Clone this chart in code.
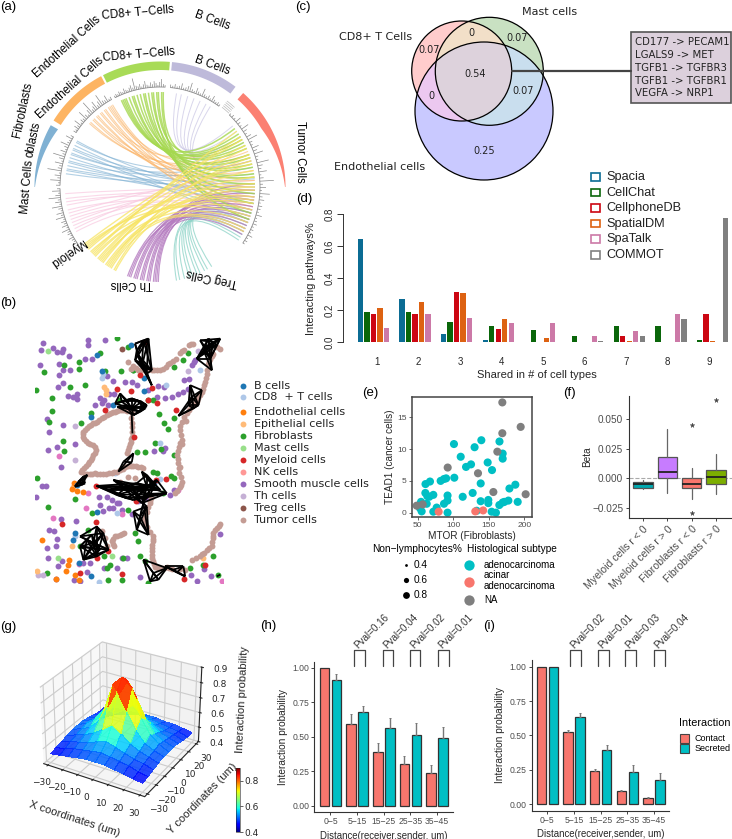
import numpy as np, pandas as pd, seaborn as sns
import matplotlib
matplotlib.use('Agg')
import matplotlib.pyplot as plt
from matplotlib.patches import Circle, Rectangle, PathPatch, Polygon
from matplotlib.path import Path
from matplotlib.collections import LineCollection
from matplotlib.cm import ScalarMappable
from matplotlib.colors import Normalize, ListedColormap

W, H = 732, 839
sns.set_style('white')
plt.rcParams['font.family'] = ['Liberation Sans', 'DejaVu Sans']
plt.rcParams['axes.unicode_minus'] = True
GREY = '#4d4d4d'

# ---------- (a) chord data (bearings in degrees, clockwise from north) ----------
ring_sectors = [('Tumor', 41.5, 90, '#fb8072'), ('B', 5.5, 37, '#bebada'), ('CD8', -27, 4.5, '#a8db57'),
                ('Endo', -58, -28, '#fdb462'), ('Fibro', -90, -60.5, '#80b1d3')]
b_starts = [10, 13, 17, 21, 25, 29, 32]
b_ends = [50, 54, 58, 62, 66, 70, 74]
cd8_starts = [-24, -23, -22, -21, -19, -17, -16, -14, -12, -10, -9, -7, -5, -4, -2, -1, 1, 2]
cd8_ends = [52, 58, 64, 60, 70, 76, 82, 66, 88, 94, 72, 100, 78, 106, 56, 84, 110, 62]
endo_starts = [-48, -47, -45, -44, -42, -41, -39, -38, -36, -35, -33, -32, -31, -30]
endo_ends = [68, 80, 92, 74, 98, 104, 86, 60, 110, 96, 84, 70, 102, 90]
fibro_starts = [-82, -80, -79, -77, -75, -74, -72, -70, -69, -67, -66, -64, -62, -61]
fibro_ends = [90, 100, 85, 94, 106, 78, 98, 74, 88, 112, 82, 104, 72, 92]
mast_starts = [-94, -97, -99, -101, -104, -106, -108, -110, -112, -114, -116, -118]
mast_ends = [92, 98, 104, 86, 110, 80, 96, 114, 88, 102, 76, 108]
mye_starts = [-127, -129, -131, -133, -135, -137, -139, -141, -143, -145, -147, -149, -151, -152, -128, -134, -140, -146, -130, -136, -142, -148]
mye_ends = [60, 88, 70, 104, 54, 96, 76, 112, 66, 100, 84, 118, 72, 92, 108, 58, 80, 116, 64, 98, 74, 90]
th_starts = [-160, -162, -164, -166, -168, -170, -172, -174, -176, -178, -179, -161, -165, -169, -173, -177]
th_ends = [100, 108, 96, 112, 104, 116, 92, 120, 88, 110, 106, 118, 98, 114, 102, 94]
treg_starts = [147, 150, 152, 155, 157, 160, 162, 165, 168, 170]
treg_ends = [112, 116, 120, 108, 122, 114, 118, 110, 124, 106]
link_sets = [(mast_starts, mast_ends, '#f9c9e0', .7, .8), (b_starts, b_ends, '#c9c5e4', .7, .7),
             (fibro_starts, fibro_ends, '#80b1d3', .6, .8), (endo_starts, endo_ends, '#fbb468', .6, .8),
             (treg_starts, treg_ends, '#8dd3c7', .75, .8), (th_starts, th_ends, '#b57cc0', .8, .9),
             (cd8_starts, cd8_ends, '#a5d84f', .8, 1.1), (mye_starts, mye_ends, '#f7e463', .75, 1.0)]
track_cd8 = [2, 3, 2, 4, 3, 2, 5, 3, 2, 4, 6, 3, 12, 4, 3, 5, 2, 4, 7, 3, 2, 5, 3, 6, 4, 2, 5, 8, 3, 2]
track_b = [3, 2, 4, 2, 3, 6, 2, 3, 5, 9, 3, 2, 6, 3, 2, 8, 3, 2, 4, 2, 6, 3, 2, 3, 2]
track_endo = [3, 2, 5, 3, 8, 2, 4, 3, 10, 4, 2, 6, 14, 3, 5, 9, 3, 6, 12, 4, 3, 7, 2, 3]
track_fibro = [4, 2, 10, 3, 6, 2, 14, 4, 3, 8, 2, 5, 12, 3, 6, 2, 4, 9, 3, 2, 7, 3]
track_mye = [3, 8, 2, 5, 12, 3, 6, 2, 10, 4, 2, 7, 3, 9, 2, 5, 3, 6, 2, 8, 3, 4, 2, 5, 3, 2, 4, 2]
track_tumor = [2, 3, 2, 6, 3, 2, 8, 4, 2, 5, 10, 3, 2, 7, 4, 9, 3, 2, 12, 5, 3, 8, 2, 4, 14, 3, 6, 2, 10, 3, 5, 2, 4, 3, 2, 6, 2, 3, 4, 2, 3, 2, 5, 2, 3, 2]
track_sets = [(-26.6, 2.9, track_cd8), (6, 36, track_b), (-57, -29, track_endo), (-89, -60, track_fibro),
              (-91, -125, track_mye), (44, 124, track_tumor)]

# ---------- (b) spatial positions ----------
smooth = [(128,157),(124,178),(160,172),(170,185),(185,185),(188,175),(207,197),(265,150),(265,165),(316,148),(255,205),(275,205),(121,223),(178,222),(190,240),(210,240),(178,255),(190,277),(175,290),(205,317),(218,320),(232,310),(230,326),(340,272),(320,258),(328,310),(300,325),(305,340),(285,345),(325,345),(312,330),(342,310),(375,275),(395,275),(410,283),(445,300),(475,287),(492,290),(515,320),(495,322),(470,320),(535,310),(548,305),(565,295),(552,268),(568,265),(585,210),(575,225),(582,215),(140,387),(148,425),(188,405),(143,480),(172,470),(225,462),(182,530),(463,483),(490,483),(495,475),(125,588),(138,588),(108,620),(298,620),(322,620),(300,645),(335,630),(350,640),(358,640),(310,662),(328,655),(340,655),(365,660),(183,687),(228,693),(148,720),(162,725),(170,747),(140,775),(168,770),(145,805),(175,830),(185,815),(168,868),(248,820),(270,820),(262,848),(222,870),(240,875),(312,835),(350,835),(365,805),(380,805),(420,862),(573,855),(590,875),(632,858),(612,838),(660,733),(395,672),(415,632),(440,625),(510,615),(522,600)]
fibro = [(352,143),(385,170),(237,215),(237,235),(193,223),(133,246),(300,187),(548,210),(565,187),(523,230),(362,243),(398,240),(315,242),(255,285),(210,290),(157,322),(108,300),(157,362),(272,370),(242,398),(148,395),(190,452),(193,482),(410,485),(434,487),(466,460),(483,478),(491,398),(505,417),(478,372),(521,383),(523,495),(460,545),(470,550),(512,557),(523,565),(110,563),(226,627),(143,650),(275,670),(383,660),(405,730),(415,755),(265,720),(240,770),(312,800),(368,805),(330,825),(320,835),(140,850),(420,800),(435,815),(570,835),(608,825),(640,800),(655,855),(445,880),(365,870),(325,872),(357,330),(445,330),(460,330),(400,240),(490,610)]
bcell = [(392,163),(290,195),(305,243),(433,263),(432,303),(338,345),(272,380),(290,667),(225,730),(218,752),(237,820),(272,860),(455,580),(462,578),(232,585)]
cd8t = [(305,263),(308,250),(498,284),(480,458),(600,238),(297,876),(352,670),(345,550),(480,568),(225,740)]
endoc = [(125,752),(207,812),(203,826),(198,843),(167,868),(225,855),(238,870),(250,606),(230,603),(222,580),(215,597)]
epi = [(311,290),(319,310),(318,298),(216,768),(218,590),(610,805),(112,845)]
mastc = [(143,183),(175,806),(335,800)]
mye = [(352,295),(392,303),(455,293),(420,255),(316,360),(528,361),(443,330),(470,340),(402,440),(287,587),(407,632),(497,568),(468,570),(185,703),(287,695),(325,785),(240,850),(290,805),(367,853),(615,825),(552,868),(435,155)]
th = [(595,182),(563,243),(226,407),(225,511),(130,855),(115,855)]
treg = [(365,175)]
pinkc = [(178,497),(258,655),(158,685),(365,672),(535,600),(265,610),(665,875),(238,822)]
tumor = [(660,175),(650,170),(640,190),(630,205),(625,220),(622,240),(618,262),(612,285),(605,305),(595,325),(585,338),(572,352),(560,368),(545,395),(558,392),(540,420),(545,450),(538,470),(545,462),(532,495),(535,520),(540,530),(538,548),(546,575),(540,592),(525,608),(580,160),(566,163),(553,178),(540,187),(518,212),(505,222),(490,235),(472,240),(455,240),(435,240),(415,240),(400,228),(385,215),(392,235),(395,370),(382,362),(370,360),(357,360),(345,365),(332,368),(320,375),(305,385),(292,395),(280,400),(268,408),(255,420),(248,432),(252,447),(265,458),(278,465),(288,480),(280,495),(272,510),(263,522),(252,535),(243,547),(255,553),(270,552),(285,550),(300,552),(318,552),(335,548),(350,545),(368,537),(385,528),(400,528),(415,530),(430,535),(395,425),(395,440),(392,455),(388,470),(380,490),(405,565),(385,560),(360,575),(452,625),(450,640),(440,665),(432,690),(440,712),(458,738),(460,755),(455,775),(455,795),(460,815),(465,832),(482,835),(500,832),(515,838),(660,702),(652,715),(640,730),(640,745),(635,770),(628,775),(612,790),(600,798),(575,810),(345,740),(335,755),(360,735),(373,730),(342,770),(305,725),(315,745),(320,770),(540,838),(555,840),
         (635,197),(628,212),(620,250),(615,274),(608,295),(600,315),(590,332),(578,345),(566,360),(552,380),(540,408),(542,435),(541,460),(535,482),(533,508),(537,535),(542,560),(544,585),(532,602),(573,162),(547,182),(529,205),(511,218),(497,229),(481,238),(463,240),(445,240),(425,240),(407,234),(376,361),(363,360),(351,362),(338,366),(326,371),(312,380),(298,390),(286,398),(274,404),(261,414),(250,426),(250,440),(258,453),(271,461),(284,472),(284,488),(276,503),(267,516),(257,529),(247,541),(262,553),(277,551),(292,551),(309,552),(326,550),(342,546),(359,541),(376,532),(392,528),(407,529),(422,532),(395,400),(393,385),(395,412),(394,448),(390,462),(384,480),(451,632),(445,652),(436,678),(436,702),(449,726),(459,747),(457,765),(455,785),(457,805),(462,824),(473,834),(491,834),(508,835),(656,708),(646,722),(640,738),(637,758),(620,782),(606,794),(588,804),(352,738),(340,748),(367,732),(338,763)]
edge_hubs = [(395,355),(395,375),(425,230),(630,205),(575,320),(370,515),(245,585),(440,590),(420,680),(280,760),(460,850),(520,840),(660,855)]
edge_leaves = [[(360,310),(345,340),(365,335),(380,330),(395,325),(410,330),(425,335),(440,345),(435,355),(420,365),(400,375),(375,345),(352,350)],
               [(397,430)],
               [(405,160),(410,180),(430,150),(445,145),(405,210),(455,240),(440,250),(430,220),(415,195),(455,285)],
               [(600,150),(615,170),(660,145),(640,155),(650,165),(590,205),(610,180),(625,145),(635,240)],
               [(605,300),(570,285),(595,345),(565,345),(580,355),(535,377)],
               [(400,490),(395,517),(355,545)],
               [(262,555),(225,590),(250,560),(235,575),(255,580)],
               [(425,545),(440,555),(460,590),(480,600),(410,580),(370,600),(290,588),(330,600),(350,615),(380,625),(400,630),(500,610),(470,570),(450,615),(425,640),(430,630),(340,570),(390,590)],
               [(400,665),(440,650),(410,720),(445,735),(430,640)],
               [(240,740),(290,710),(310,730),(325,780),(290,800),(250,810),(240,770),(260,750),(300,780),(275,735)],
               [(430,810),(500,835),(450,875),(475,870)],
               [(550,830),(555,860),(530,848),(495,830)],
               [(650,860)]]
cell_sets = [('Smooth muscle cells', smooth, '#9467bd'), ('Fibroblasts', fibro, '#2ca02c'), ('Pink', pinkc, '#e377c2'),
             ('Th cells', th, '#c5b0d5'), ('Mast cells', mastc, '#98df8a'), ('Epithelial cells', epi, '#ffbb78'),
             ('Endothelial cells', endoc, '#ff7f0e'), ('CD8 + T cells', cd8t, '#aec7e8'), ('B cells', bcell, '#1f77b4'),
             ('Treg cells', treg, '#8c564b'), ('Tumor cells', tumor, '#c49c94'), ('Myeloid cells', mye, '#d62728')]
cell_legend = [('B cells', '#1f77b4'), ('CD8  + T cells', '#aec7e8'), ('Endothelial cells', '#ff7f0e'), ('Epithelial cells', '#ffbb78'),
               ('Fibroblasts', '#2ca02c'), ('Mast cells', '#98df8a'), ('Myeloid cells', '#d62728'), ('NK cells', '#ff9896'),
               ('Smooth muscle cells', '#9467bd'), ('Th cells', '#c5b0d5'), ('Treg cells', '#8c564b'), ('Tumor cells', '#c49c94')]

# ---------- (c) venn ----------
venn_values = ['0.07', '0', '0.07', '0.54', '0.07', '0', '0.25']
venn_pairs = ['CD177 -> PECAM1', 'LGALS9 -> MET', 'TGFB1 -> TGFBR3', 'TGFB1 -> TGFBR1', 'VEGFA -> NRP1']

# ---------- (d) bars ----------
methods = ['Spacia', 'CellChat', 'CellphoneDB', 'SpatialDM', 'SpaTalk', 'COMMOT']
method_colors = ['#0b6c94', '#0a660a', '#cc0612', '#dd6212', '#cc79a7', '#808080']
shared = ['1', '2', '3', '4', '5', '6', '7', '8', '9']
spacia = [.646, .27, .05, .0125, 0, 0, 0, 0, 0]
cellchat = [.1875, .1875, .125, .1, .08, .0375, .1, .1, .015]
cellphonedb = [.175, .175, .3125, .085, 0, 0, .04, 0, .175]
spatialdm = [.2125, .255, .31, .145, .027, 0, .006, 0, .006]
spatalk = [.0875, .18, .15, .12, .12, .04, .07, .18, 0]
commot = [0, 0, 0, 0, 0, .008, .04, .145, .775]

# ---------- (e) scatter ----------
adeno_x = [101,110.5,118,125,130,139.5,165,169.5,169.5,148.4,154.5,101.5,90,87,82.3,67.3,61,138.6,179,187.3,127.3,113.3,60.8,63.6,66.4,72,92,92,87,138.6,149.3,149.3,164.8,169.5,172,177.5,190.6,54.7,62.7,53.3,55.6,72,76.7,92,133,154,160]
adeno_y = [10.8,8.8,7.2,7.6,10.3,11.4,11.2,9.3,8.5,7.9,6.7,5.5,5.4,5.3,5,4.9,4.5,4.6,3.8,4.4,3.1,2.5,3.1,2.6,2.5,2.8,2.7,1.9,1.4,1.8,2,1.5,1.2,1.6,1.7,1.9,1.7,1.7,1.4,.7,.2,.15,.8,0,.3,.15,0]
na_x = [169,194.8,169,162,92.2,134.8,156.4,201.8,48.6,57]
na_y = [17.35,13.5,12.5,9.6,7.1,6.2,3.25,2.9,1.1,1.3]
acinar_x = [79.5,131,142]
acinar_y = [.15,.2,.35]

# ---------- (f) boxes ----------
box_names = ['Myeloid cells r < 0', 'Myeloid cells r > 0', 'Fibroblasts r < 0', 'Fibroblasts r > 0']
box_colors = ['#00a9b0', '#c77cff', '#f8766d', '#7cae00']
whislo = [-.0093, -.0122, -.0176, -.0133]
q1 = [-.0079, .0006, -.0085, -.0051]
med = [-.0051, .0054, -.0051, .0008]
q3 = [-.0034, .018, 0, .0068]
whishi = [-.0017, .0422, .0085, .0207]
fliers = [[], [], [.0456, -.0297], [.0663]]

# ---------- (g) surface ----------
grid_um = [-30, -24, -18, -12, -6, 0, 6, 12, 18, 24, 30]
surface = [[.46,.47,.48,.49,.50,.50,.50,.49,.48,.47,.46],
           [.47,.48,.50,.51,.52,.53,.52,.51,.50,.48,.47],
           [.48,.50,.51,.53,.55,.57,.55,.53,.51,.50,.48],
           [.49,.51,.53,.56,.60,.65,.61,.56,.53,.51,.49],
           [.50,.52,.55,.61,.72,.84,.73,.62,.55,.52,.50],
           [.50,.53,.58,.66,.84,.90,.85,.67,.58,.53,.50],
           [.50,.52,.55,.62,.74,.85,.75,.63,.55,.52,.50],
           [.49,.51,.53,.57,.61,.66,.61,.57,.53,.51,.49],
           [.48,.50,.51,.53,.55,.57,.55,.53,.51,.50,.48],
           [.47,.49,.50,.51,.52,.53,.52,.51,.50,.49,.47],
           [.47,.48,.49,.49,.50,.50,.50,.49,.49,.48,.47]]

# ---------- (h), (i) ----------
dist = ['0\u22125', '5\u221215', '15\u221225', '25\u221235', '35\u221245']
h_contact = [1.0, .59, .39, .30, .24]
h_secreted = [.91, .675, .565, .515, .487]
h_contact_top = [1.0, .662, .457, .36, .292]
h_secreted_top = [.955, .722, .633, .597, .572]
h_pvals = ['Pval=0.16', 'Pval=0.04', 'Pval=0.02', 'Pval=0.01']
i_contact = [1.0, .524, .243, .095, .046]
i_secreted = [1.0, .631, .39, .235, .172]
i_contact_top = [1.0, .541, .257, .105, .052]
i_secreted_top = [1.0, .66, .432, .284, .223]
i_pvals = ['Pval=0.02', 'Pval=0.01', 'Pval=0.03', 'Pval=0.04']

fig = plt.figure(figsize=(W/100, H/100), dpi=100, facecolor='white')
def axpx(l, t, r, b, **kw):
    return fig.add_axes([l/W, 1-b/H, (r-l)/W, (b-t)/H], **kw)

ov = axpx(0, 0, W, H, zorder=5)
ov.set_xlim(0, W); ov.set_ylim(H, 0); ov.axis('off'); ov.patch.set_alpha(0)
def T(x, y, s, size=8, color='black', ha='left', va='center', rot=0, **kw):
    return ov.text(x, y, s, fontsize=size, color=color, ha=ha, va=va, rotation=rot, rotation_mode='anchor', **kw)

for s, x, y in [('(a)', 0, 7), ('(b)', 0, 303), ('(c)', 295, 7), ('(d)', 296, 199), ('(e)', 362, 393),
                ('(f)', 563, 393), ('(g)', 0, 627), ('(h)', 260, 626), ('(i)', 483, 626)]:
    T(x, y, s, size=9.5)

# ----- (a) -----
cx, cy = 160, 187
def pol(b, r):
    b = np.radians(b)
    return cx + r*np.sin(b), cy - r*np.cos(b)
for starts, ends, col, alpha, lw in link_sets:
    for s, e in zip(starts, ends):
        p = Path([pol(s, 95), (cx, cy), pol(e, 95)], [Path.MOVETO, Path.CURVE3, Path.CURVE3])
        ov.add_patch(PathPatch(p, fc='none', ec=col, lw=lw, alpha=alpha))
for a0, a1, col in [(n[1], n[2], n[3]) for n in ring_sectors]:
    bs = np.linspace(a0, a1, 60)
    rin = 125 - 8*np.minimum(1, (90-np.abs(bs))/30)
    pts = [pol(b, 125.5) for b in bs] + [pol(b, r) for b, r in zip(bs[::-1], rin[::-1])]
    ov.add_patch(Polygon(pts, closed=True, fc=col, ec='none'))
for a0, a1, hs in track_sets:
    bs = np.linspace(a0, a1, len(hs))
    ov.plot(*zip(*[pol(b, 100) for b in np.linspace(a0, a1, 40)]), color='#8a8a8a', lw=.6)
    ov.add_collection(LineCollection([[pol(b, 100), pol(b, 100+h)] for b, h in zip(bs, hs)], colors='#8a8a8a', linewidths=.5))
for r in [101, 103, 105, 107, 109]:
    ov.plot(*zip(*[pol(b, r) for b in np.linspace(38, 43, 6)]), color='#bbbbbb', lw=.5)
lab = 8.3
for s, x, y, rot in [('Fibroblasts', 23, 110, 78), ('Endothelial Cells', 67, 47, 42), ('CD8+ T\u2212Cells', 138, 13, 5),
                     ('B Cells', 212, 20, -20), ('Tumor Cells', 300, 152, -90), ('Mast Cells', 27, 187, 85),
                     ('CD8+ T\u2212Cells', 139, 55, 5), ('B Cells', 212, 65, -20), ('Endothelial Cells', 70, 88, 42),
                     ('oblasts', 33, 140, 78), ('Myeloid', 67, 252, 215), ('Th Cells', 132, 284, 180), ('Treg Cells', 212, 277, 168)]:
    T(x, y, s, size=lab, ha='center', va='center', rot=rot)

# ----- (b) -----
axb = axpx(35, 337, 223.5, 583)
axb.set_xlim(105, 670); axb.set_ylim(880, 140); axb.axis('off')
for name, pts, col in cell_sets:
    a = np.array(pts)
    sns.scatterplot(x=a[:, 0], y=a[:, 1], color=col, s=18, linewidth=0, ax=axb, legend=False, zorder=2 if name != 'Myeloid cells' else 2.5)
segs = [[h, l] for h, ls in zip(edge_hubs, edge_leaves) for l in ls]
segs += [[a, b] for ls in edge_leaves for a, b in zip(ls, ls[1:])]
segs += [[a, b] for ls in edge_leaves for a, b in zip(ls, ls[2:])]
segs += [[a, b] for ls in edge_leaves for a, b in zip(ls, ls[3:])]
axb.add_collection(LineCollection(segs, colors='black', linewidths=1.3, zorder=3))
for (name, col), y in zip(cell_legend, [385.7, 397.3, 412, 424, 436, 447.7, 460, 472, 484, 496.3, 508.3, 520.3]):
    ov.scatter([243], [y], s=18, color=col, linewidths=0)
    T(254, y, name, size=8, family='DejaVu Sans', color='#222222')

# ----- (c) -----
vc = {'A': (461.7, 71, 50), 'B': (489.3, 71.3, 54), 'C': (484, 111, 69)}
gx, gy = np.meshgrid(np.arange(400, 560, .25), np.arange(10, 186, .25))
ina = (gx-461.7)**2 + (gy-71)**2 < 50**2
inb = (gx-489.3)**2 + (gy-71.3)**2 < 54**2
inc = (gx-484)**2 + (gy-111)**2 < 69**2
reg = ina*1 + inb*2 + inc*4
vcols = ['#ffffff', '#ffcccc', '#c9e1c2', '#f2dfc8', '#c9c9ff', '#ecc8f0', '#c9deee', '#ddd2dc']
ov.imshow(reg, cmap=ListedColormap(vcols), vmin=0, vmax=7, extent=(400, 560, 186, 10), aspect='auto', interpolation='nearest', zorder=0)
ov.set_xlim(0, W); ov.set_ylim(H, 0)
for k, (x, y, r) in vc.items():
    ov.add_patch(Circle((x, y), r, fc='none', ec='black', lw=.9))
vfont = 'DejaVu Sans'
for s, (x, y) in zip(venn_values, [(429.3, 50), (471, 33.3), (516.7, 38.3), (475.3, 74), (523.3, 90.7), (431.7, 95.7), (483.7, 150.7)]):
    T(x, y, s, size=7, ha='center', family=vfont, color='#222222')
T(549.3, 11.7, 'Mast cells', size=8, ha='center', family=vfont, color='#222222')
T(376, 37.3, 'CD8+ T Cells', size=8, ha='center', family=vfont, color='#222222')
T(379.3, 166.7, 'Endothelial cells', size=8, ha='center', family=vfont, color='#222222')
ov.plot([512, 631], [71, 71], color='#444444', lw=1.6)
ov.add_patch(Rectangle((631, 32), 100, 71, fc='#dcd0dc', ec='#555555', lw=1.2))
for s, y in zip(venn_pairs, [42.3, 55.3, 68, 80.7, 93.3]):
    T(635.3, y, s, size=7.3, family=vfont, color='#222222')

# ----- (d) -----
axd = axpx(342.5, 214.3, 732, 342.3)
dfd = pd.DataFrame({'shared': np.tile(shared, 6), 'value': spacia+cellchat+cellphonedb+spatialdm+spatalk+commot,
                    'method': np.repeat(methods, 9)})
sns.barplot(data=dfd, x='shared', y='value', hue='method', hue_order=methods, palette=method_colors, width=.94, gap=.18,
            saturation=1, ax=axd, legend=False, errorbar=None, edgecolor='none')
axd.set_xlim(-.826, 8.55); axd.set_ylim(0, .8)
axd.patch.set_alpha(0)
sns.despine(ax=axd, bottom=True)
axd.spines['left'].set_linewidth(.7); axd.spines['left'].set_color('#333333')
axd.spines['top'].set_visible(False)
axd.tick_params(axis='y', left=True, length=4, width=.7, labelsize=7, pad=2, color='#333333')
axd.set_yticks([0, .2, .4, .6, .8]); axd.set_yticklabels(['0.0', '0.2', '0.4', '0.6', '0.8'], rotation=90, va='center')
axd.tick_params(axis='x', bottom=False, labelsize=7, pad=7)
axd.set_xlabel('Shared in # of cell types', fontsize=8, labelpad=2)
axd.set_ylabel('Interacting pathways%', fontsize=8, labelpad=6)
for bar in axd.patches:
    bar.set_clip_on(False)
for s, c, y in zip(methods, method_colors, [177, 192.7, 208, 223.7, 239, 255]):
    ov.add_patch(Rectangle((590.5, y-3.7), 9, 7.4, fc='white', ec=c, lw=1.2))
    T(606, y, s, size=9.2, color='#222222')

# ----- (e) -----
axe = axpx(411.7, 396.7, 531.7, 517.3)
dfe = pd.DataFrame({'x': adeno_x+acinar_x+na_x, 'y': adeno_y+acinar_y+na_y,
                    'sub': ['adeno']*len(adeno_x)+['acinar']*len(acinar_x)+['NA']*len(na_x)})
sns.scatterplot(data=dfe, x='x', y='y', hue='sub', palette={'adeno': '#00bfc4', 'acinar': '#f8766d', 'NA': '#7f7f7f'},
                s=34, linewidth=0, ax=axe, legend=False)
axe.set_xlim(41.6, 210.3); axe.set_ylim(-.73, 18.25)
axe.set_xticks([50, 100, 150, 200]); axe.set_yticks([0, 5, 10, 15])
for sp in axe.spines.values():
    sp.set_color('#444444'); sp.set_linewidth(1.1)
axe.tick_params(axis='both', labelsize=6, length=2, width=.6, pad=1.5, labelcolor=GREY, color=GREY, left=True, bottom=True)
axe.set_xlabel('MTOR (Fibroblasts)', fontsize=7.2, labelpad=1)
axe.set_ylabel('TEAD1 (cancer cells)', fontsize=7.2, labelpad=2)
T(371.7, 549, 'Non\u2212lymphocytes%', size=7.3)
T(467.3, 549, 'Histological subtype', size=7.3)
for s, y, size in [('0.4', 565, 4), ('0.6', 580, 14), ('0.8', 595, 24)]:
    ov.scatter([405.7], [y], s=size, color='black', linewidths=0)
    T(414, y, s, size=7.3)
for c, y in [('#00bfc4', 565), ('#f8766d', 581.7), ('#7f7f7f', 600)]:
    ov.scatter([469.3], [y], s=55, color=c, linewidths=0)
for s, y in [('adenocarcinoma', 565), ('acinar', 575), ('adenocarcinoma', 586), ('NA', 600)]:
    T(484, y, s, size=7)

# ----- (f) -----
axf = axpx(628.7, 396, 731.7, 518.3)
stats = [dict(whislo=a, q1=b, med=c, q3=d, whishi=e, fliers=f) for a, b, c, d, e, f in zip(whislo, q1, med, q3, whishi, fliers)]
axf.axhline(0, color='#aaaaaa', ls='--', lw=.8, zorder=0)
bp = axf.bxp(stats, positions=range(4), widths=.8, patch_artist=True, showcaps=False,
             boxprops=dict(edgecolor='#555555', lw=.9), medianprops=dict(color='#222222', lw=1.3),
             whiskerprops=dict(color='#666666', lw=.9),
             flierprops=dict(marker='*', markersize=3.5, markerfacecolor='#444444', markeredgecolor='#444444', markeredgewidth=.3))
for b, c in zip(bp['boxes'], box_colors):
    b.set_facecolor(c)
axf.set_xlim(-.59, 3.65); axf.set_ylim(-.034, .0699)
axf.set_yticks([-.025, 0, .025, .05]); axf.set_yticklabels(['\u22120.025', '0.000', '0.025', '0.050'])
axf.set_xticks(range(4)); axf.set_xticklabels(box_names, rotation=45, ha='right', rotation_mode='anchor')
sns.despine(ax=axf)
axf.spines['left'].set_color('#333333'); axf.spines['bottom'].set_color('#333333')
axf.tick_params(axis='y', left=True, length=2.5, width=.6, labelsize=7.2, labelcolor=GREY, pad=1.5)
axf.tick_params(axis='x', bottom=True, length=2.5, width=.6, labelsize=7.6, labelcolor=GREY, pad=1.5)
axf.set_ylabel('Beta', fontsize=7.2, labelpad=0)

# ----- (g) -----
axg = axpx(30, 628, 210, 808, projection='3d')
axg.patch.set_alpha(0)
X, Y = np.meshgrid(grid_um, grid_um)
axg.plot_surface(X, Y, np.array(surface), cmap='jet', vmin=.4, vmax=.9, alpha=.85, rstride=1, cstride=1, linewidth=0, antialiased=False)
axg.set_xlim(-33, 33); axg.set_ylim(-33, 33); axg.set_zlim(.4, .9)
axg.set_xticks(range(-30, 31, 10)); axg.set_yticks(range(-30, 31, 10)); axg.set_zticks([.4, .5, .6, .7, .8, .9])
axg.tick_params(labelsize=6.5, pad=-1, labelfontfamily='DejaVu Sans')
axg.tick_params(axis='z', pad=0)
axg.set_xlabel('X coordinates (um)', fontsize=8, labelpad=-1)
axg.set_ylabel('Y coordinates (um)', fontsize=8, labelpad=-1)
axg.set_zlabel('Interaction probability', fontsize=8, labelpad=-2)
axc = axpx(236, 768, 240, 832)
cb = fig.colorbar(ScalarMappable(Normalize(.4, .9), 'jet'), cax=axc)
cb.set_ticks([.4, .6, .8]); cb.ax.tick_params(labelsize=6.5, length=2, width=.5, pad=1, labelfontfamily='DejaVu Sans')
cb.outline.set_linewidth(.4)

# ----- (h), (i) -----
def bars(ax, contact, secreted, ctop, stop, xlim, ylim):
    df = pd.DataFrame({'dist': dist*2, 'p': contact+secreted, 'kind': ['Contact']*5+['Secreted']*5})
    sns.barplot(data=df, x='dist', y='p', hue='kind', palette=['#f8766d', '#00bfc4'], width=.9, gap=.2, saturation=1,
                edgecolor='#333333', linewidth=.9, errorbar=None, ax=ax, legend=False)
    tops = ctop + stop
    for bar, top in zip(ax.patches, tops):
        xc = bar.get_x() + bar.get_width()/2
        val = bar.get_height()
        if top > val:
            ax.errorbar([xc], [val], yerr=[[0], [top-val]], color='#777777', capsize=1, elinewidth=1, capthick=.7, zorder=1)
    ax.set_xlim(*xlim); ax.set_ylim(*ylim)
    ax.set_yticks([0, .25, .5, .75, 1]); ax.set_yticklabels(['0.00', '0.25', '0.50', '0.75', '1.00'])
    sns.despine(ax=ax)
    ax.spines['left'].set_color('#333333'); ax.spines['bottom'].set_color('#333333')
    ax.tick_params(axis='both', labelsize=6.2, labelcolor=GREY, length=2.2, width=.6, left=True, bottom=True, pad=1.5)
    ax.set_xlabel('Distance(receiver,sender, um)', fontsize=6.9, labelpad=3)
    ax.set_ylabel('Interaction probability', fontsize=7.3, labelpad=3)
    ax.patch.set_alpha(0)

axh = axpx(314.3, 661.7, 453.3, 812.3)
bars(axh, h_contact, h_secreted, h_contact_top, h_secreted_top, (-.606, 4.606), (-.048, 1.043))
axi = axpx(531.7, 660, 669.3, 810.7)
bars(axi, i_contact, i_secreted, i_contact_top, i_secreted_top, (-.5875, 4.575), (-.0485, 1.0485))
for xs, pv in [([283, 368, 449, 535], h_pvals), ([930, 1015, 1096, 1182], i_pvals)]:
    for zx, s in zip(xs, pv):
        x0 = 260 + zx/3
        ov.plot([x0, x0, x0+10.5, x0+10.5], [665.7, 650, 650, 665.7], color='#444444', lw=.9)
        T(x0+2, 646.5, s, size=7.1, rot=45, ha='left', va='center', color='#333333')
T(679.3, 723.5, 'Interaction', size=7.8)
for y, c, s in [(734.3, '#f8766d', 'Contact'), (744, '#00bfc4', 'Secreted')]:
    ov.add_patch(Rectangle((679.5, y), 9, 9, fc=c, ec='#444444', lw=.8))
    T(694.3, y+4.5, s, size=6.5)

fig.savefig('out.png', dpi=100)
